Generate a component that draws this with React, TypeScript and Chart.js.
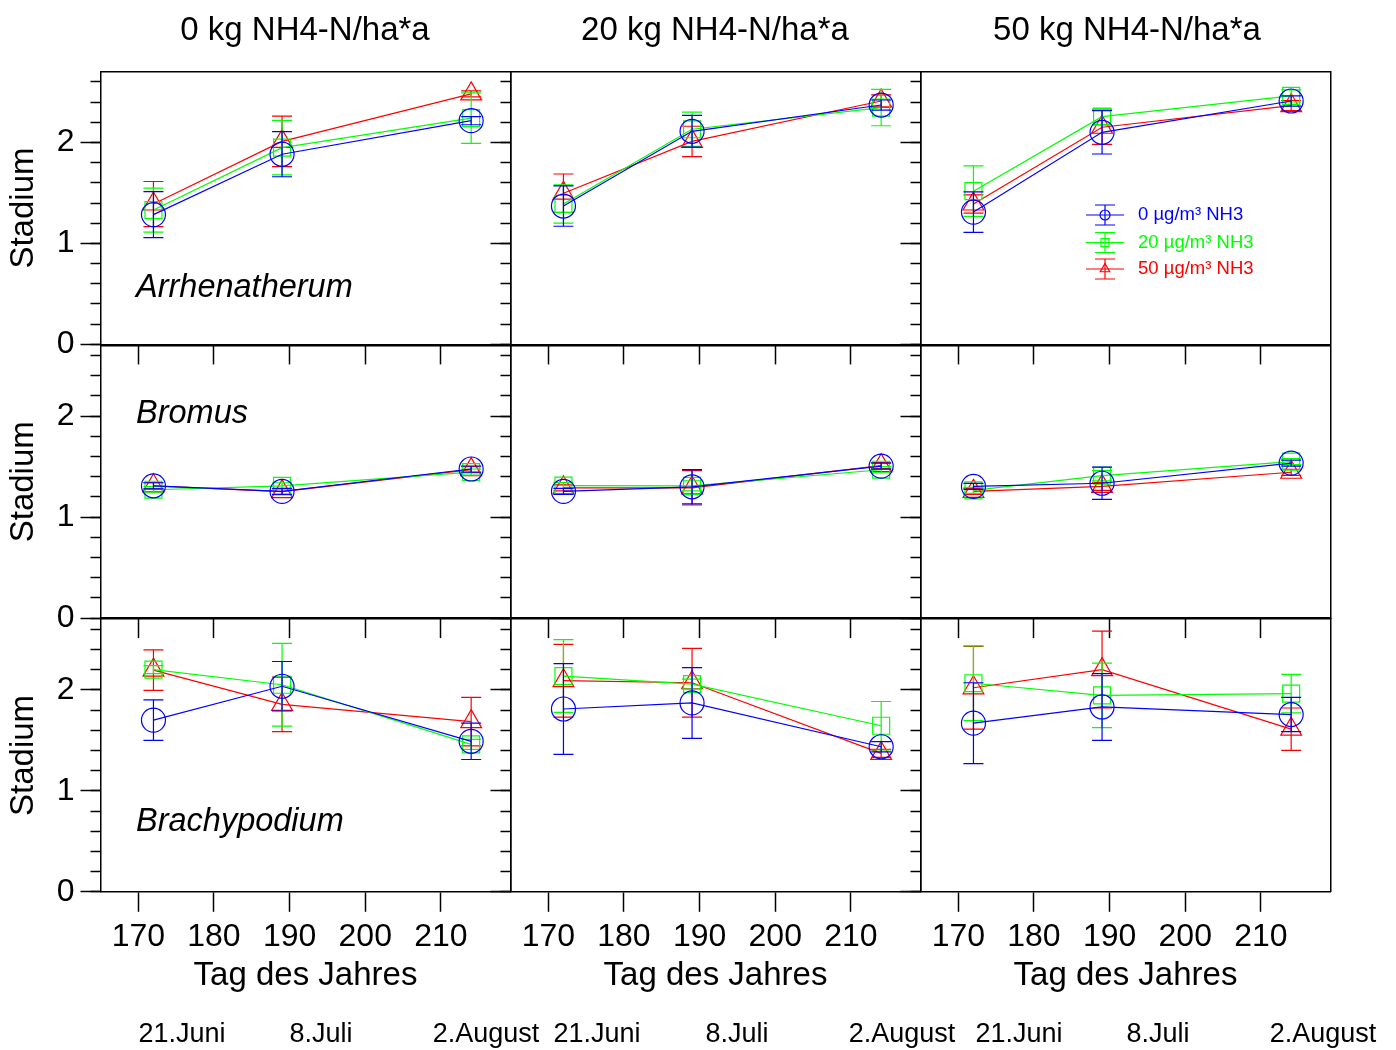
import React, { useEffect, useRef } from 'react';
import { Chart, registerables } from 'chart.js';

Chart.register(...registerables);

// ---------------- data ----------------
const days = [172, 189, 214];
const xTickValues = [170, 180, 190, 200, 210];
const yMajorTickValues = [0, 1, 2];
const yMinorTickValues = [0, 0.2, 0.4, 0.6, 0.8, 1.0, 1.2, 1.4, 1.6, 1.8, 2.0, 2.2, 2.4, 2.6];
const xMin = 165;
const xMax = 219.2;
const yMin = 0;
const yMax = 2.7;

const fertLevels = ['0 kg NH4-N/ha*a', '20 kg NH4-N/ha*a', '50 kg NH4-N/ha*a'];
const speciesNames = ['Arrhenatherum', 'Bromus', 'Brachypodium'];
const seriesNames = ['0 µg/m³ NH3', '20 µg/m³ NH3', '50 µg/m³ NH3'];
const dateLabels = ['21.Juni', '8.Juli', '2.August'];
const xTitle = 'Tag des Jahres';
const yTitle = 'Stadium';

// Arrhenatherum
const arr_N0_NH0 = [1.285, 1.883, 2.215];
const arr_N0_NH20 = [1.33, 1.948, 2.24];
const arr_N0_NH50 = [1.39, 2.01, 2.48];
const arr_N0_NH0_sd = [0.228, 0.223, 0.04];
const arr_N0_NH20_sd = [0.218, 0.27, 0.25];
const arr_N0_NH50_sd = [0.223, 0.25, 0.03];

const arr_N20_NH0 = [1.37, 2.11, 2.37];
const arr_N20_NH20 = [1.39, 2.13, 2.345];
const arr_N20_NH50 = [1.497, 2.01, 2.41];
const arr_N20_NH0_sd = [0.2, 0.157, 0.05];
const arr_N20_NH20_sd = [0.19, 0.17, 0.18];
const arr_N20_NH50_sd = [0.19, 0.15, 0.06];

const arr_N50_NH0 = [1.31, 2.1, 2.41];
const arr_N50_NH20 = [1.517, 2.255, 2.46];
const arr_N50_NH50 = [1.39, 2.15, 2.365];
const arr_N50_NH0_sd = [0.2, 0.215, 0.05];
const arr_N50_NH20_sd = [0.25, 0.076, 0.06];
const arr_N50_NH50_sd = [0.09, 0.17, 0.05];

// Bromus
const bro_N0_NH0 = [1.31, 1.255, 1.476];
const bro_N0_NH20 = [1.271, 1.31, 1.446];
const bro_N0_NH50 = [1.31, 1.252, 1.47];
const bro_N0_NH0_sd = [0.03, 0.03, 0.03];
const bro_N0_NH20_sd = [0.03, 0.03, 0.03];
const bro_N0_NH50_sd = [0.03, 0.03, 0.03];

const bro_N20_NH0 = [1.255, 1.3, 1.505];
const bro_N20_NH20 = [1.311, 1.31, 1.469];
const bro_N20_NH50 = [1.29, 1.29, 1.51];
const bro_N20_NH0_sd = [0.03, 0.17, 0.03];
const bro_N20_NH20_sd = [0.03, 0.05, 0.03];
const bro_N20_NH50_sd = [0.03, 0.17, 0.03];

const bro_N50_NH0 = [1.304, 1.335, 1.535];
const bro_N50_NH20 = [1.265, 1.41, 1.55];
const bro_N50_NH50 = [1.255, 1.304, 1.444];
const bro_N50_NH0_sd = [0.03, 0.16, 0.03];
const bro_N50_NH20_sd = [0.03, 0.05, 0.03];
const bro_N50_NH50_sd = [0.03, 0.04, 0.03];

// Brachypodium
const bra_N0_NH0 = [1.7, 2.035, 1.49];
const bra_N0_NH20 = [2.2, 2.05, 1.46];
const bra_N0_NH50 = [2.195, 1.855, 1.685];
const bra_N0_NH0_sd = [0.2, 0.245, 0.18];
const bra_N0_NH20_sd = [0.04, 0.41, 0.05];
const bra_N0_NH50_sd = [0.2, 0.27, 0.24];

const bra_N20_NH0 = [1.81, 1.87, 1.436];
const bra_N20_NH20 = [2.136, 2.056, 1.644];
const bra_N20_NH50 = [2.09, 2.07, 1.37];
const bra_N20_NH0_sd = [0.45, 0.35, 0.05];
const bra_N20_NH20_sd = [0.36, 0.05, 0.24];
const bra_N20_NH50_sd = [0.36, 0.34, 0.04];

const bra_N50_NH0 = [1.67, 1.83, 1.755];
const bra_N50_NH20 = [2.065, 1.945, 1.962];
const bra_N50_NH50 = [2.02, 2.2, 1.61];
const bra_N50_NH0_sd = [0.4, 0.33, 0.17];
const bra_N50_NH20_sd = [0.37, 0.32, 0.19];
const bra_N50_NH50_sd = [0.41, 0.38, 0.21];

type Panel = { row: number; col: number; means: number[][]; sds: number[][] };

const panels: Panel[] = [
  { row: 0, col: 0, means: [arr_N0_NH0, arr_N0_NH20, arr_N0_NH50], sds: [arr_N0_NH0_sd, arr_N0_NH20_sd, arr_N0_NH50_sd] },
  { row: 0, col: 1, means: [arr_N20_NH0, arr_N20_NH20, arr_N20_NH50], sds: [arr_N20_NH0_sd, arr_N20_NH20_sd, arr_N20_NH50_sd] },
  { row: 0, col: 2, means: [arr_N50_NH0, arr_N50_NH20, arr_N50_NH50], sds: [arr_N50_NH0_sd, arr_N50_NH20_sd, arr_N50_NH50_sd] },
  { row: 1, col: 0, means: [bro_N0_NH0, bro_N0_NH20, bro_N0_NH50], sds: [bro_N0_NH0_sd, bro_N0_NH20_sd, bro_N0_NH50_sd] },
  { row: 1, col: 1, means: [bro_N20_NH0, bro_N20_NH20, bro_N20_NH50], sds: [bro_N20_NH0_sd, bro_N20_NH20_sd, bro_N20_NH50_sd] },
  { row: 1, col: 2, means: [bro_N50_NH0, bro_N50_NH20, bro_N50_NH50], sds: [bro_N50_NH0_sd, bro_N50_NH20_sd, bro_N50_NH50_sd] },
  { row: 2, col: 0, means: [bra_N0_NH0, bra_N0_NH20, bra_N0_NH50], sds: [bra_N0_NH0_sd, bra_N0_NH20_sd, bra_N0_NH50_sd] },
  { row: 2, col: 1, means: [bra_N20_NH0, bra_N20_NH20, bra_N20_NH50], sds: [bra_N20_NH0_sd, bra_N20_NH20_sd, bra_N20_NH50_sd] },
  { row: 2, col: 2, means: [bra_N50_NH0, bra_N50_NH20, bra_N50_NH50], sds: [bra_N50_NH0_sd, bra_N50_NH20_sd, bra_N50_NH50_sd] },
];

// ---------------- styles / layout ----------------
const FONT = "'Liberation Sans', Arial, Helvetica, sans-serif";
const seriesColors = ['#0000ff', '#00ff00', '#ff0000'];
const pointStyles = ['circle', 'rect', 'triangle'];
const PAGE_W = 1396;
const PAGE_H = 1050;
const COL_LEFT = [100.5, 510.5, 920.5];
const ROW_TOP = [71.7, 345.4, 619.1];
const PANEL_W = 410;
const PANEL_H = 272.7;
const AXIS_TITLE_SIZE = 33;
const TICK_SIZE = 32;
const TITLE_HALF = (AXIS_TITLE_SIZE * 1.2) / 2;
const TICK_HALF = (TICK_SIZE * 1.2) / 2;
const Y_TITLE_CENTER_X = 24;
const X_TITLE_CENTER_Y = 976;
const X_TICK_CENTER_Y = 937.5;
const FRAME_W = 1.5;
const LINE_W = 1.2;

const colTitleSize = 33;
const colTitleX = [305, 715, 1127];
const colTitleBaseline = 39.5;
const speciesSize = 32.5;
const speciesLeft = 136;
const speciesBaseline = [297.3, 424, 831.7];
const dateSize = 27;
const dateCenters = [
  [182, 321, 486],
  [597, 737, 902],
  [1019, 1158, 1323],
];
const dateBaseline = 1043.3;
const ASC = 0.8465; // baseline offset (em) for line-height 1 with Liberation Sans

const LEG_ROWS_Y = [215, 242.7, 269];
const LEG_X0 = 1086;
const LEG_X1 = 1124;
const LEG_CX = 1105;
const LEG_TEXT_X = 1138;
const LEG_FONT = 18.5;

function makeErrorBarPlugin(sds: number[][]) {
  return {
    id: 'errorBars',
    afterDatasetDraw(chart: any, args: any) {
      const i = args.index;
      const ds = chart.data.datasets[i];
      const meta = args.meta;
      const ys = chart.scales.y;
      const ctx = chart.ctx;
      ctx.save();
      ctx.strokeStyle = ds.borderColor;
      ctx.lineWidth = LINE_W;
      ctx.beginPath();
      meta.data.forEach((el: any, j: number) => {
        const v = ds.data[j].y;
        const e = sds[i][j];
        const yt = ys.getPixelForValue(v + e);
        const yb = ys.getPixelForValue(v - e);
        ctx.moveTo(el.x, yt);
        ctx.lineTo(el.x, yb);
        ctx.moveTo(el.x - 10, yt);
        ctx.lineTo(el.x + 10, yt);
        ctx.moveTo(el.x - 10, yb);
        ctx.lineTo(el.x + 10, yb);
      });
      ctx.stroke();
      ctx.restore();
    },
  };
}

const legendPlugin = {
  id: 'nh3Legend',
  afterDraw(chart: any) {
    const ctx = chart.ctx;
    ctx.save();
    LEG_ROWS_Y.forEach((y, i) => {
      const color = seriesColors[i];
      ctx.strokeStyle = color;
      ctx.lineWidth = LINE_W;
      ctx.beginPath();
      ctx.moveTo(LEG_X0, y);
      ctx.lineTo(LEG_X1, y);
      ctx.moveTo(LEG_CX, y - 10);
      ctx.lineTo(LEG_CX, y + 10);
      ctx.moveTo(LEG_CX - 10, y - 10);
      ctx.lineTo(LEG_CX + 10, y - 10);
      ctx.moveTo(LEG_CX - 10, y + 10);
      ctx.lineTo(LEG_CX + 10, y + 10);
      ctx.stroke();
      ctx.beginPath();
      if (pointStyles[i] === 'circle') {
        ctx.arc(LEG_CX, y, 5, 0, Math.PI * 2);
      } else if (pointStyles[i] === 'rect') {
        ctx.rect(LEG_CX - 4, y - 4, 8, 8);
      } else {
        ctx.moveTo(LEG_CX, y - 5.5);
        ctx.lineTo(LEG_CX + 4.76, y + 2.75);
        ctx.lineTo(LEG_CX - 4.76, y + 2.75);
        ctx.closePath();
      }
      ctx.stroke();
      ctx.fillStyle = color;
      ctx.font = `${LEG_FONT}px ${FONT}`;
      ctx.textBaseline = 'middle';
      ctx.textAlign = 'left';
      ctx.fillText(seriesNames[i], LEG_TEXT_X, y);
    });
    ctx.restore();
  },
};

function buildConfig(p: Panel): any {
  const left = COL_LEFT[p.col];
  const top = ROW_TOP[p.row];
  const right = left + PANEL_W;
  const bottom = top + PANEL_H;
  const yAxisW = p.col === 0 ? left - (Y_TITLE_CENTER_X - TITLE_HALF) : 0;
  const xAxisH = p.row === 2 ? X_TITLE_CENTER_Y + TITLE_HALF - bottom : 0;
  const showY = p.col === 0;
  const showX = p.row === 2;
  const xTickPad = X_TICK_CENTER_Y - TICK_HALF - 20 - bottom;

  const datasets = p.means.map((m, i) => ({
    label: seriesNames[i],
    data: days.map((d, j) => ({ x: d, y: m[j] })),
    borderColor: seriesColors[i],
    backgroundColor: 'rgba(0,0,0,0)',
    borderWidth: LINE_W,
    pointStyle: pointStyles[i],
    pointRadius: 12,
    pointHoverRadius: 12,
    pointBorderWidth: LINE_W,
    pointBackgroundColor: 'rgba(0,0,0,0)',
    pointBorderColor: seriesColors[i],
    tension: 0,
    fill: false,
    xAxisID: 'x',
    yAxisID: 'y',
  }));

  const frameBorder = { display: true, color: '#000', width: FRAME_W };
  const tickFont = { family: FONT, size: TICK_SIZE };
  const titleFont = { family: FONT, size: AXIS_TITLE_SIZE };

  const plugins: any[] = [makeErrorBarPlugin(p.sds)];
  if (p.row === 0 && p.col === 2) plugins.push(legendPlugin);

  return {
    type: 'line',
    data: { datasets },
    plugins,
    options: {
      responsive: false,
      animation: false,
      devicePixelRatio: 1,
      events: [],
      layout: {
        padding: {
          left: left - yAxisW,
          top: top,
          right: PAGE_W - right,
          bottom: PAGE_H - bottom - xAxisH,
        },
      },
      plugins: {
        legend: { display: false },
        title: { display: false },
        tooltip: { enabled: false },
      },
      scales: {
        x: {
          type: 'linear',
          axis: 'x',
          position: 'bottom',
          min: xMin,
          max: xMax,
          afterBuildTicks: (a: any) => {
            a.ticks = xTickValues.map((v) => ({ value: v }));
          },
          afterFit: (a: any) => {
            a.height = xAxisH;
          },
          grid: { display: true, drawOnChartArea: false, drawTicks: true, tickLength: 20, tickColor: '#000', tickWidth: FRAME_W },
          border: frameBorder,
          ticks: {
            display: showX,
            color: '#000',
            font: tickFont,
            padding: xTickPad,
            maxRotation: 0,
            minRotation: 0,
            autoSkip: false,
            callback: (v: any) => String(v),
          },
          title: { display: showX, text: xTitle, color: '#000', font: titleFont, padding: 0 },
        },
        xTop: {
          type: 'linear',
          axis: 'x',
          position: 'top',
          min: xMin,
          max: xMax,
          afterFit: (a: any) => {
            a.height = 0;
          },
          grid: { display: true, drawOnChartArea: false, drawTicks: false },
          border: frameBorder,
          ticks: { display: false },
        },
        y: {
          type: 'linear',
          axis: 'y',
          position: 'left',
          weight: 1,
          min: yMin,
          max: yMax,
          afterBuildTicks: (a: any) => {
            a.ticks = yMajorTickValues.map((v) => ({ value: v }));
          },
          afterFit: (a: any) => {
            a.width = yAxisW;
          },
          grid: { display: true, drawOnChartArea: false, drawTicks: true, tickLength: 20, tickColor: '#000', tickWidth: FRAME_W },
          border: frameBorder,
          ticks: {
            display: showY,
            color: '#000',
            font: tickFont,
            padding: 6,
            autoSkip: false,
            callback: (v: any) => String(v),
          },
          title: { display: showY, text: yTitle, color: '#000', font: titleFont, padding: 0 },
        },
        yMinor: {
          type: 'linear',
          axis: 'y',
          position: 'left',
          weight: 0,
          min: yMin,
          max: yMax,
          afterBuildTicks: (a: any) => {
            a.ticks = yMinorTickValues.map((v) => ({ value: v }));
          },
          afterFit: (a: any) => {
            a.width = 0;
          },
          grid: { display: true, drawOnChartArea: false, drawTicks: true, tickLength: 10, tickColor: '#000', tickWidth: FRAME_W },
          border: { display: false },
          ticks: { display: false, autoSkip: false },
        },
        yRight: {
          type: 'linear',
          axis: 'y',
          position: 'right',
          min: yMin,
          max: yMax,
          afterFit: (a: any) => {
            a.width = 0;
          },
          grid: { display: true, drawOnChartArea: false, drawTicks: false },
          border: frameBorder,
          ticks: { display: false },
        },
      },
    },
  };
}

export default function App() {
  const refs = useRef<(HTMLCanvasElement | null)[]>([]);

  useEffect(() => {
    const charts: Chart[] = [];
    panels.forEach((p, i) => {
      const cv = refs.current[i];
      if (!cv) return;
      charts.push(new Chart(cv, buildConfig(p)));
    });
    return () => {
      charts.forEach((c) => c.destroy());
    };
  }, []);

  const textBase: React.CSSProperties = {
    position: 'absolute',
    fontFamily: FONT,
    color: '#000',
    lineHeight: 1,
    whiteSpace: 'nowrap',
    margin: 0,
  };

  return (
    <div
      style={{
        position: 'absolute',
        left: 0,
        top: 0,
        width: PAGE_W,
        height: PAGE_H,
        background: '#fff',
        overflow: 'hidden',
      }}
    >
      {panels.map((p, i) => (
        <canvas
          key={i}
          ref={(el) => {
            refs.current[i] = el;
          }}
          width={PAGE_W}
          height={PAGE_H}
          style={{ position: 'absolute', left: 0, top: 0, width: PAGE_W, height: PAGE_H }}
        />
      ))}
      {fertLevels.map((t, i) => (
        <div
          key={'ct' + i}
          style={{
            ...textBase,
            fontSize: colTitleSize,
            left: colTitleX[i] - 200,
            width: 400,
            textAlign: 'center',
            top: colTitleBaseline - ASC * colTitleSize,
          }}
        >
          {t}
        </div>
      ))}
      {speciesNames.map((s, i) => (
        <div
          key={'sp' + i}
          style={{
            ...textBase,
            fontSize: speciesSize,
            fontStyle: 'italic',
            left: speciesLeft,
            top: speciesBaseline[i] - ASC * speciesSize,
          }}
        >
          {s}
        </div>
      ))}
      {dateCenters.map((set, si) =>
        set.map((cx, di) => (
          <div
            key={'d' + si + '_' + di}
            style={{
              ...textBase,
              fontSize: dateSize,
              left: cx - 80,
              width: 160,
              textAlign: 'center',
              top: dateBaseline - ASC * dateSize,
            }}
          >
            {dateLabels[di]}
          </div>
        ))
      )}
    </div>
  );
}
